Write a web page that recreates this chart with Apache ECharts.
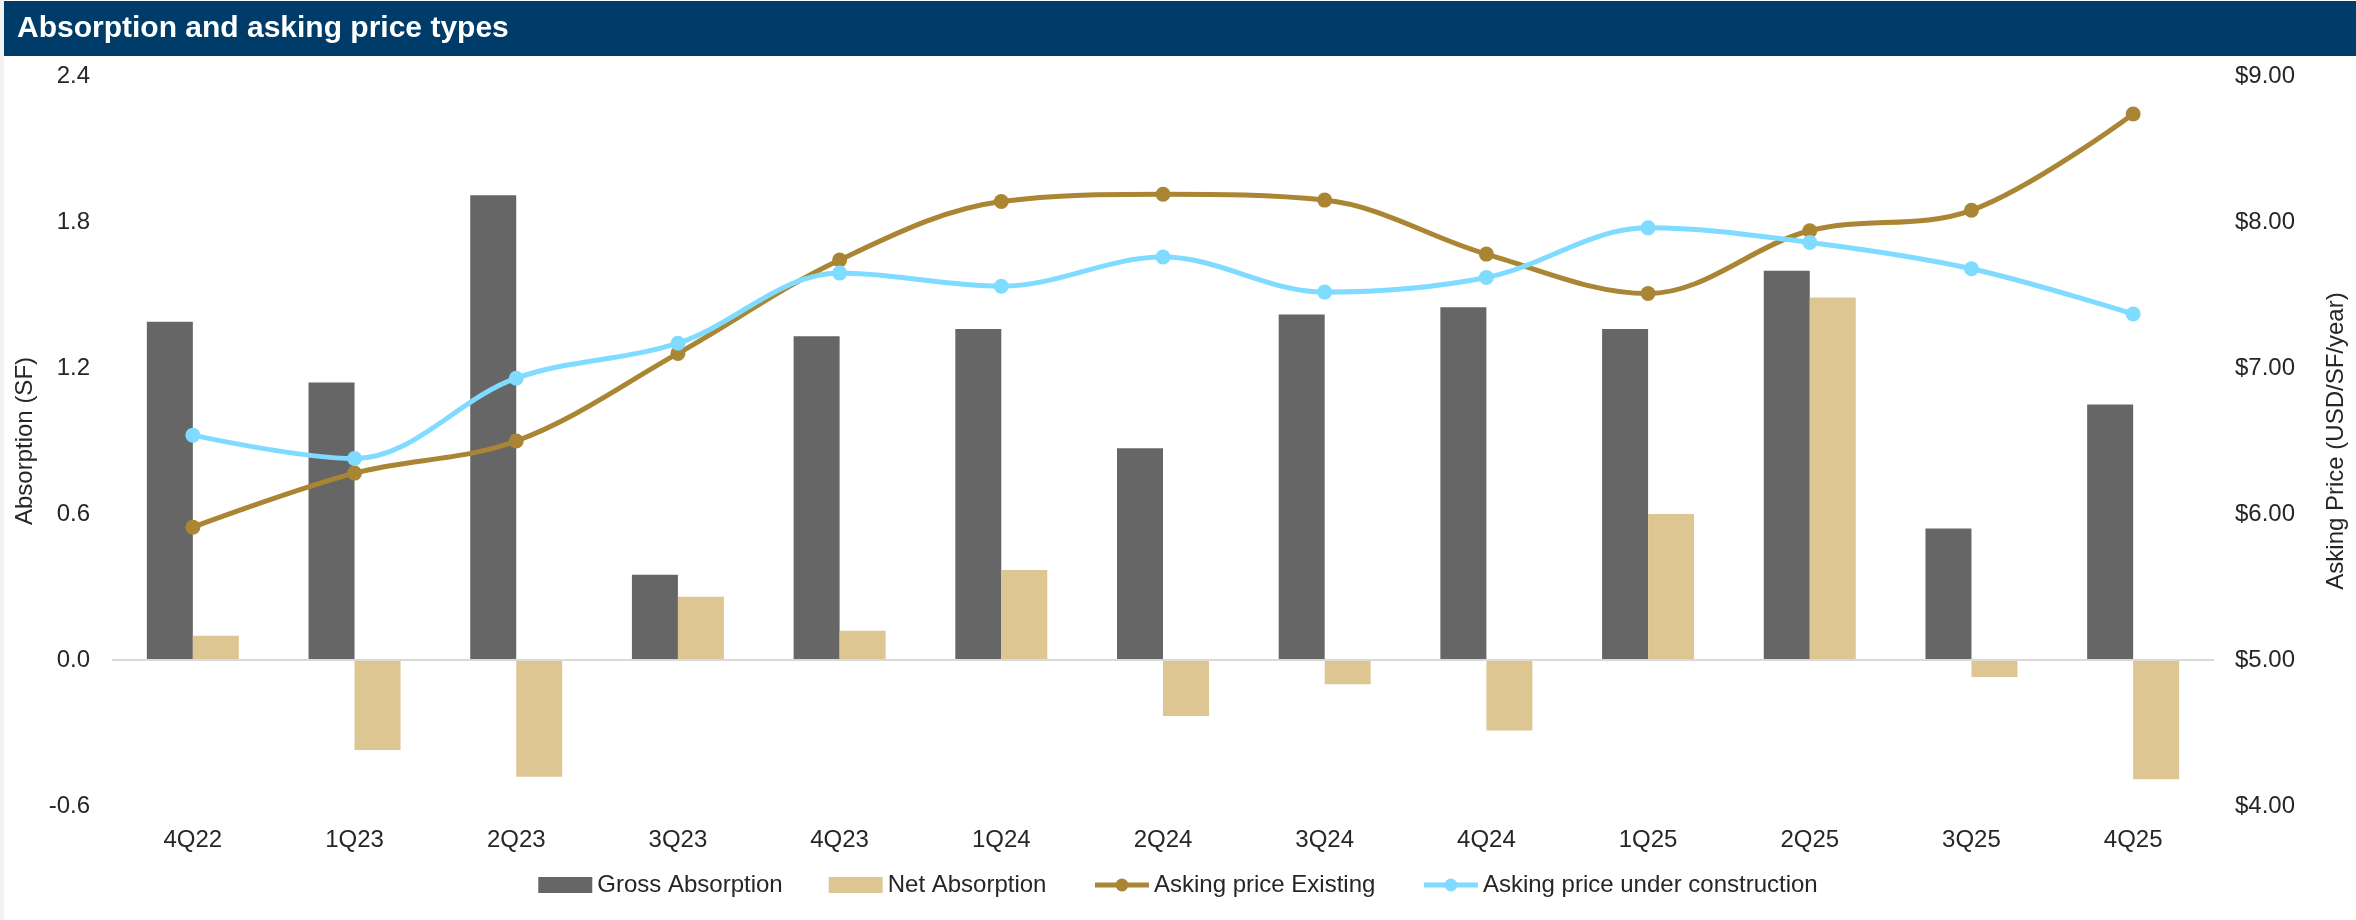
<!DOCTYPE html>
<html>
<head>
<meta charset="utf-8">
<title>Absorption and asking price types</title>
<script src="https://cdn.jsdelivr.net/npm/echarts@6/dist/echarts.min.js"></script>
<style>
  html, body { margin: 0; padding: 0; background: #ffffff; }
  #chart { width: 2356px; height: 920px; }
</style>
</head>
<body>
<div id="chart"></div>
<script>
// Quarterly categories
const quarters = ['4Q22', '1Q23', '2Q23', '3Q23', '4Q23', '1Q24', '2Q24', '3Q24', '4Q24', '1Q25', '2Q25', '3Q25', '4Q25'];

// Absorption (SF) – left axis
const grossAbsorption = [1.39, 1.14, 1.91, 0.35, 1.33, 1.36, 0.87, 1.42, 1.45, 1.36, 1.60, 0.54, 1.05];
const netAbsorption   = [0.10, -0.37, -0.48, 0.26, 0.12, 0.37, -0.23, -0.10, -0.29, 0.60, 1.49, -0.07, -0.49];

// Asking price (USD/SF/year) – right axis
const askingExisting          = [5.91, 6.28, 6.50, 7.10, 7.74, 8.14, 8.19, 8.15, 7.78, 7.51, 7.94, 8.08, 8.74];
const askingUnderConstruction = [6.54, 6.38, 6.93, 7.17, 7.65, 7.56, 7.76, 7.52, 7.62, 7.96, 7.86, 7.68, 7.37];

// Axis scales
const absorptionTicks = { min: -0.6, max: 2.4, interval: 0.6 };
const priceTicks = { min: 4, max: 9, interval: 1 };

const FONT = "'Liberation Sans', Arial, sans-serif";
const TEXT = '#262626';

const chart = echarts.init(document.getElementById('chart'), null, { renderer: 'canvas' });

chart.setOption({
  backgroundColor: '#ffffff',
  animation: false,
  textStyle: { fontFamily: FONT },
  graphic: [
    { type: 'rect', z: 0, shape: { x: 0, y: 0, width: 4, height: 920 }, style: { fill: '#f2f2f2' } },
    { type: 'rect', z: 0, shape: { x: 4, y: 1, width: 2352, height: 55 }, style: { fill: '#003c69' } }
  ],
  title: {
    text: 'Absorption and asking price types',
    left: 17,
    top: 11,
    padding: 0,
    z: 10,
    textStyle: { color: '#ffffff', fontSize: 30, fontWeight: 'bold', lineHeight: 36, fontFamily: FONT }
  },
  legend: {
    left: 'center',
    top: 868,
    itemWidth: 54,
    itemHeight: 16,
    itemGap: 46,
    lineStyle: { width: 5 },
    textStyle: { fontSize: 24, color: TEXT, lineHeight: 24, fontFamily: FONT },
    data: [
      { name: 'Gross Absorption', icon: 'rect' },
      { name: 'Net Absorption', icon: 'rect' },
      { name: 'Asking price Existing' },
      { name: 'Asking price under construction' }
    ]
  },
  grid: { left: 112, right: 128, top: 76, bottom: 114, containLabel: false },
  xAxis: {
    type: 'category',
    data: quarters,
    axisLine: { show: false },
    axisTick: { show: false },
    axisLabel: { fontSize: 24, color: TEXT, margin: 22, fontFamily: FONT },
    splitLine: { show: false }
  },
  yAxis: [
    {
      type: 'value',
      min: absorptionTicks.min,
      max: absorptionTicks.max,
      interval: absorptionTicks.interval,
      name: 'Absorption (SF)',
      nameLocation: 'middle',
      nameGap: 74,
      nameTextStyle: { fontSize: 24, color: TEXT, fontFamily: FONT },
      axisLine: { show: false },
      axisTick: { show: false },
      splitLine: { show: false },
      axisLabel: {
        fontSize: 24, color: TEXT, margin: 22, fontFamily: FONT,
        formatter: v => v.toFixed(1)
      }
    },
    {
      type: 'value',
      position: 'right',
      min: priceTicks.min,
      max: priceTicks.max,
      interval: priceTicks.interval,
      name: 'Asking Price (USD/SF/year)',
      nameLocation: 'middle',
      nameGap: 110,
      nameTextStyle: { fontSize: 24, color: TEXT, fontFamily: FONT },
      axisLine: { show: false },
      axisTick: { show: false },
      splitLine: { show: false },
      axisLabel: {
        fontSize: 24, color: TEXT, margin: 21, fontFamily: FONT,
        formatter: v => '$' + v.toFixed(2)
      }
    }
  ],
  series: [
    {
      name: 'Gross Absorption',
      type: 'bar',
      yAxisIndex: 0,
      data: grossAbsorption,
      barWidth: 46,
      barGap: '0%',
      itemStyle: { color: '#666666' },
      z: 2,
      markLine: {
        silent: true,
        symbol: 'none',
        label: { show: false },
        lineStyle: { color: '#d9d9d9', width: 2, type: 'solid' },
        data: [{ yAxis: 0 }]
      }
    },
    {
      name: 'Net Absorption',
      type: 'bar',
      yAxisIndex: 0,
      data: netAbsorption,
      barWidth: 46,
      barGap: '0%',
      itemStyle: { color: '#ddc692' },
      z: 2
    },
    {
      name: 'Asking price Existing',
      type: 'line',
      yAxisIndex: 1,
      data: askingExisting,
      smooth: 0.35,
      symbol: 'circle',
      symbolSize: 15,
      lineStyle: { color: '#aa8533', width: 5 },
      itemStyle: { color: '#aa8533' },
      z: 4
    },
    {
      name: 'Asking price under construction',
      type: 'line',
      yAxisIndex: 1,
      data: askingUnderConstruction,
      smooth: 0.35,
      symbol: 'circle',
      symbolSize: 15,
      lineStyle: { color: '#7fdbff', width: 5 },
      itemStyle: { color: '#7fdbff' },
      z: 4
    }
  ]
});
</script>
</body>
</html>
